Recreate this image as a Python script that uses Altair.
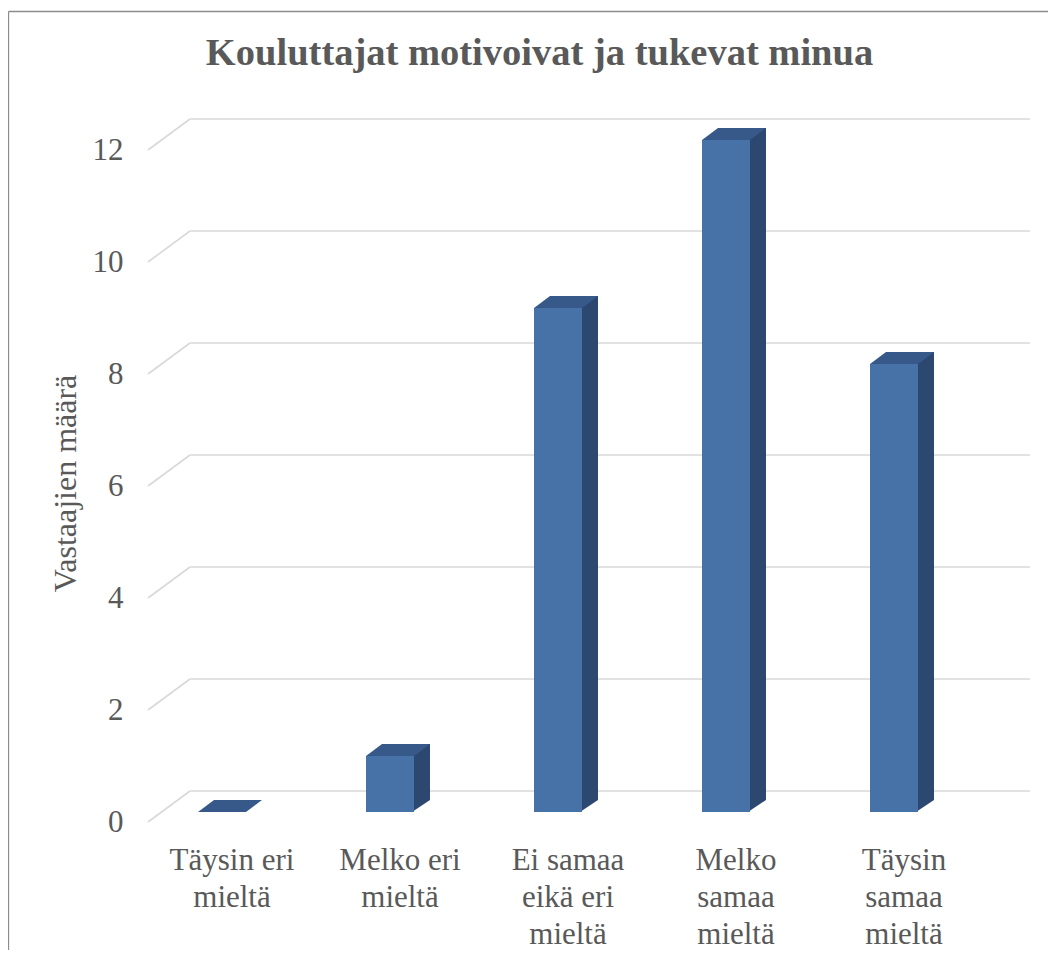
import altair as alt
import pandas as pd

# ---- data ----
categories = ["Täysin eri mieltä", "Melko eri mieltä", "Ei samaa eikä eri mieltä",
              "Melko samaa mieltä", "Täysin samaa mieltä"]
label_lines = ["Täysin eri\nmieltä", "Melko eri\nmieltä", "Ei samaa\neikä eri\nmieltä",
               "Melko\nsamaa\nmieltä", "Täysin\nsamaa\nmieltä"]
values = [0, 1, 9, 12, 8]
y_ticks = [0, 2, 4, 6, 8, 10, 12]
chart_title = "Kouluttajat motivoivat ja tukevat minua"
y_title = "Vastaajien määrä"

df = pd.DataFrame({"category": categories, "label": label_lines, "value": values})
grid_df = pd.DataFrame({"v": y_ticks})
one = pd.DataFrame({"t": [chart_title]})

W, H = 840, 672
FONT = "Liberation Serif"
GREY = "#595959"
GRID = "#D9D9D9"
FRONT = "#4672A7"
TOP = "#36598A"
SIDE = "#2C4770"
DX, DY = 42, -31  # floor depth offset

x_enc = alt.X("label:N", sort=label_lines,
              scale=alt.Scale(paddingInner=0, paddingOuter=0),
              axis=alt.Axis(title=None, labelExpr="split(datum.value, '\\n')",
                            labelAngle=0, labelFont=FONT, labelFontSize=31,
                            labelColor=GREY, labelLineHeight=37,
                            labelBaseline="alphabetic", labelPadding=47,
                            ticks=False, domain=False, grid=False, labelLimit=300))
y_scale = alt.Scale(domain=[0, 12], nice=False, zero=True)

# border of the chart area
border_top = alt.Chart(one).mark_rule(color="#8C8C8C", strokeWidth=1.3).encode(
    x=alt.value(-139.5), x2=alt.value(905), y=alt.value(-138.5))
border_left = alt.Chart(one).mark_rule(color="#8C8C8C", strokeWidth=1.3).encode(
    x=alt.value(-139.5), y=alt.value(-138.5), y2=alt.value(805))

# gridlines: slanted floor/side part and back-wall part
grid_slant = alt.Chart(grid_df).mark_rule(color=GRID, strokeWidth=1.6, y2Offset=DY).encode(
    x=alt.value(0), x2=alt.value(DX),
    y=alt.Y("v:Q", scale=y_scale,
            axis=alt.Axis(values=y_ticks, format="d", title=y_title, grid=False,
                          ticks=False, domain=False, labelFont=FONT, labelFontSize=31,
                          labelColor=GREY, labelPadding=25,
                          titleFont=FONT, titleFontSize=32, titleFontWeight="normal",
                          titleColor=GREY, titleX=-83, titleY=333,
                          titleBaseline="middle", titleAngle=-90)),
    y2="v:Q")
grid_back = alt.Chart(grid_df).mark_rule(color=GRID, strokeWidth=1.6, yOffset=DY).encode(
    x=alt.value(DX), x2=alt.value(W + DX), y=alt.Y("v:Q", scale=y_scale))

base = alt.Chart(df)
pos = base.transform_filter("datum.value > 0")

side = pos.mark_bar(color=SIDE, width=18, xOffset=21, yOffset=-22, y2Offset=-22).encode(
    x=x_enc, y=alt.Y("value:Q", scale=y_scale, stack=None), y2=alt.Y2(datum=0))
side_tri = pos.mark_point(shape="M -1.25 -1 L 1 -1 L 1 -0.75 L -1.25 0.75 Z",
                          size=256, filled=True, opacity=1, strokeWidth=0,
                          color=SIDE, xOffset=22, yOffset=-16).encode(
    x=x_enc, y=alt.datum(0, scale=y_scale))
top = base.mark_point(shape="M -1 0.1875 L 0.5 0.1875 L 1 -0.1875 L -0.5 -0.1875 Z",
                      size=4096, filled=True, opacity=1, strokeWidth=0,
                      color=TOP, xOffset=-2, yOffset=-16).encode(
    x=x_enc, y=alt.Y("value:Q", scale=y_scale))
front = base.mark_bar(color=FRONT, width=48, xOffset=-10, yOffset=-10, y2Offset=-10).encode(
    x=x_enc, y=alt.Y("value:Q", scale=y_scale, stack=None), y2=alt.Y2(datum=0))

title = alt.Chart(one).mark_text(font=FONT, fontSize=38.5, fontWeight="bold", color=GREY,
                                 baseline="alphabetic", align="center").encode(
    x=alt.value(391.5), y=alt.value(-85), text="t:N")

chart = alt.layer(border_top, border_left, grid_slant, grid_back,
                  side, side_tri, top, front, title).properties(
    width=W, height=H, autosize="none",
    padding={"left": 140, "top": 142, "right": 60, "bottom": 128},
).configure(background="white").configure_view(stroke=None)

chart.save("out.html", embed_options={"renderer": "svg", "actions": False})
